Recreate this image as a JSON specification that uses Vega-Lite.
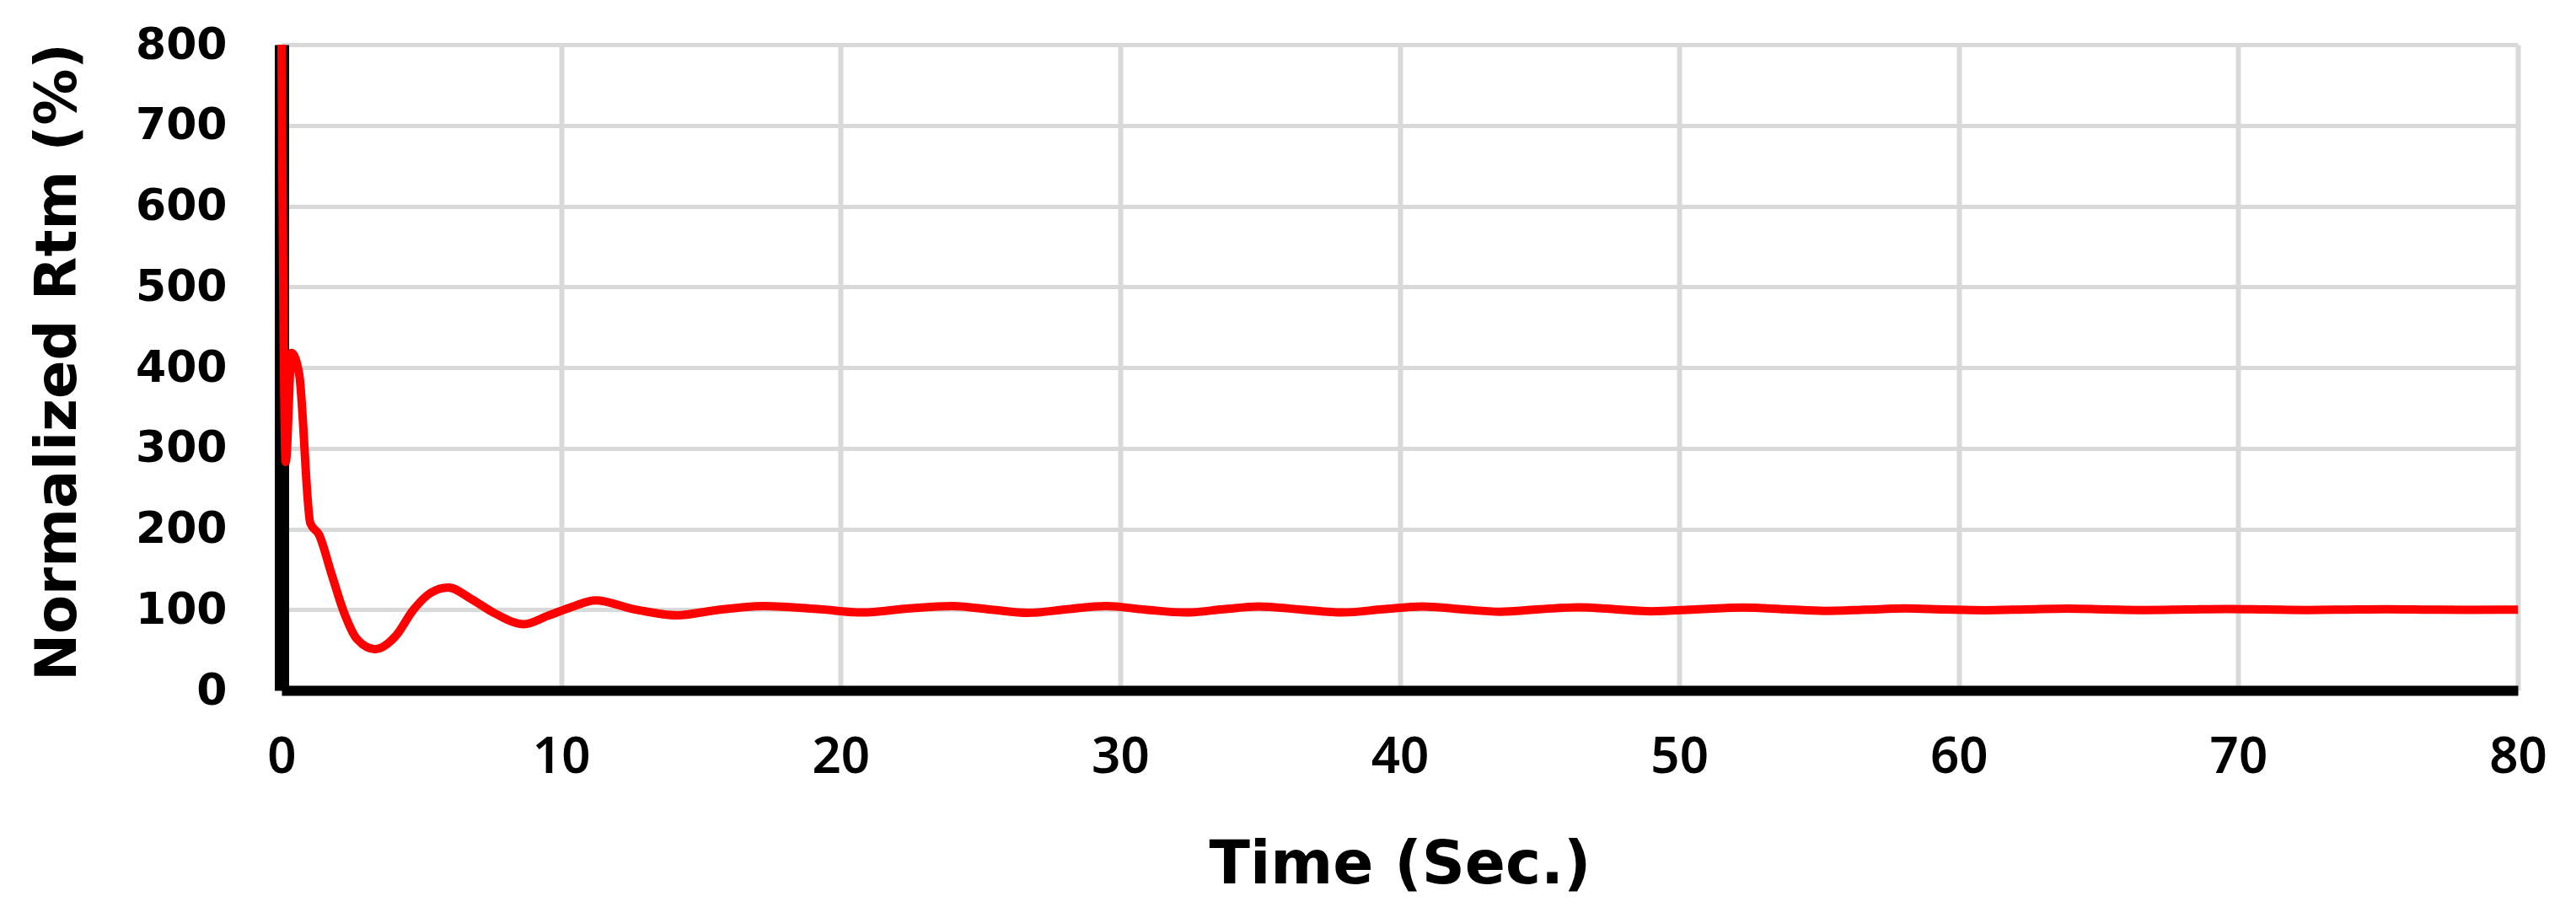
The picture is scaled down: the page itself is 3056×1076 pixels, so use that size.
{
  "$schema": "https://vega.github.io/schema/vega-lite/v6.json",
  "width": 2653,
  "height": 766,
  "autosize": {"type": "none"},
  "padding": {"left": 334, "top": 53, "right": 69, "bottom": 257},
  "background": "white",
  "view": {"stroke": null},
  "data": {
    "values": [
      {"t": 0, "r": 800},
      {"t": 0.15, "r": 283},
      {"t": 0.36, "r": 418},
      {"t": 0.63, "r": 392},
      {"t": 1.03, "r": 207},
      {"t": 1.34, "r": 193},
      {"t": 1.79, "r": 144},
      {"t": 2.24, "r": 96},
      {"t": 2.69, "r": 64},
      {"t": 3.35, "r": 51},
      {"t": 4.1, "r": 68},
      {"t": 4.7, "r": 99},
      {"t": 5.3, "r": 120},
      {"t": 5.96, "r": 127.5},
      {"t": 6.8, "r": 113},
      {"t": 7.6, "r": 96},
      {"t": 8.67, "r": 82},
      {"t": 9.5, "r": 92},
      {"t": 10.43, "r": 104},
      {"t": 11.24, "r": 111.5},
      {"t": 12.55, "r": 101},
      {"t": 14.15, "r": 93},
      {"t": 15.46, "r": 99},
      {"t": 17.27, "r": 104.5},
      {"t": 19.27, "r": 100.5},
      {"t": 20.78, "r": 96.5},
      {"t": 22.3, "r": 101},
      {"t": 24.0, "r": 104.5},
      {"t": 25.4, "r": 100},
      {"t": 26.7, "r": 96},
      {"t": 28.1, "r": 100.5},
      {"t": 29.5, "r": 104.5},
      {"t": 30.9, "r": 100},
      {"t": 32.35, "r": 96.5},
      {"t": 33.7, "r": 100.5},
      {"t": 34.95, "r": 104},
      {"t": 36.5, "r": 100},
      {"t": 37.97, "r": 96.5},
      {"t": 39.4, "r": 100.5},
      {"t": 40.8, "r": 104},
      {"t": 42.2, "r": 100.5},
      {"t": 43.6, "r": 97.5},
      {"t": 45.0, "r": 100.5},
      {"t": 46.4, "r": 103},
      {"t": 47.7, "r": 100.5},
      {"t": 49.0, "r": 98},
      {"t": 50.7, "r": 100.5},
      {"t": 52.3, "r": 102.5},
      {"t": 53.8, "r": 100.5},
      {"t": 55.2, "r": 98.5},
      {"t": 56.7, "r": 100},
      {"t": 58.1, "r": 101.5},
      {"t": 59.5, "r": 100.2},
      {"t": 60.9, "r": 99.3},
      {"t": 62.4, "r": 100.3},
      {"t": 63.9, "r": 101.4},
      {"t": 65.3, "r": 100.3},
      {"t": 66.7, "r": 99.5},
      {"t": 68.2, "r": 100.2},
      {"t": 69.6, "r": 100.8},
      {"t": 71.0, "r": 100.2},
      {"t": 72.5, "r": 99.6},
      {"t": 73.9, "r": 100.1},
      {"t": 75.3, "r": 100.6},
      {"t": 76.8, "r": 100.1},
      {"t": 78.2, "r": 99.7},
      {"t": 80, "r": 100.1}
    ]
  },
  "mark": {"type": "line", "color": "#FF0000", "strokeWidth": 10, "interpolate": "monotone", "clip": false},
  "encoding": {
    "x": {
      "field": "t",
      "type": "quantitative",
      "scale": {"domain": [0, 80], "nice": false, "zero": false},
      "axis": {
        "title": "Time (Sec.)",
        "values": [0, 10, 20, 30, 40, 50, 60, 70, 80],
        "format": "d",
        "grid": true,
        "gridColor": "#D9D9D9",
        "gridWidth": 6,
        "domain": true,
        "domainColor": "#000000",
        "domainWidth": 12,
        "ticks": false,
        "tickSize": 0,
        "labelFont": "Noto Sans",
        "labelFontWeight": 600,
        "labelFontSize": 60,
        "labelColor": "#000000",
        "labelPadding": 50,
        "labelBaseline": "top",
        "labelFlush": false,
        "labelOverlap": false,
        "titleFont": "DejaVu Sans",
        "titleFontWeight": "bold",
        "titleFontSize": 71,
        "titleColor": "#000000",
        "titleBaseline": "alphabetic",
        "titleY": 228
      }
    },
    "y": {
      "field": "r",
      "type": "quantitative",
      "scale": {"domain": [0, 800], "nice": false},
      "axis": {
        "title": "Normalized Rtm (%)",
        "values": [0, 100, 200, 300, 400, 500, 600, 700, 800],
        "format": "d",
        "grid": true,
        "gridColor": "#D9D9D9",
        "gridWidth": 5,
        "domain": true,
        "domainColor": "#000000",
        "domainWidth": 17,
        "ticks": false,
        "tickSize": 0,
        "labelFont": "DejaVu Sans",
        "labelFontWeight": "bold",
        "labelFontSize": 52,
        "labelColor": "#000000",
        "labelPadding": 65,
        "labelFlush": false,
        "labelOverlap": false,
        "titleFont": "DejaVu Sans",
        "titleFontWeight": "bold",
        "titleFontSize": 67,
        "titleColor": "#000000",
        "titleBaseline": "middle",
        "titleX": -265,
        "titleY": 376
      }
    }
  }
}
